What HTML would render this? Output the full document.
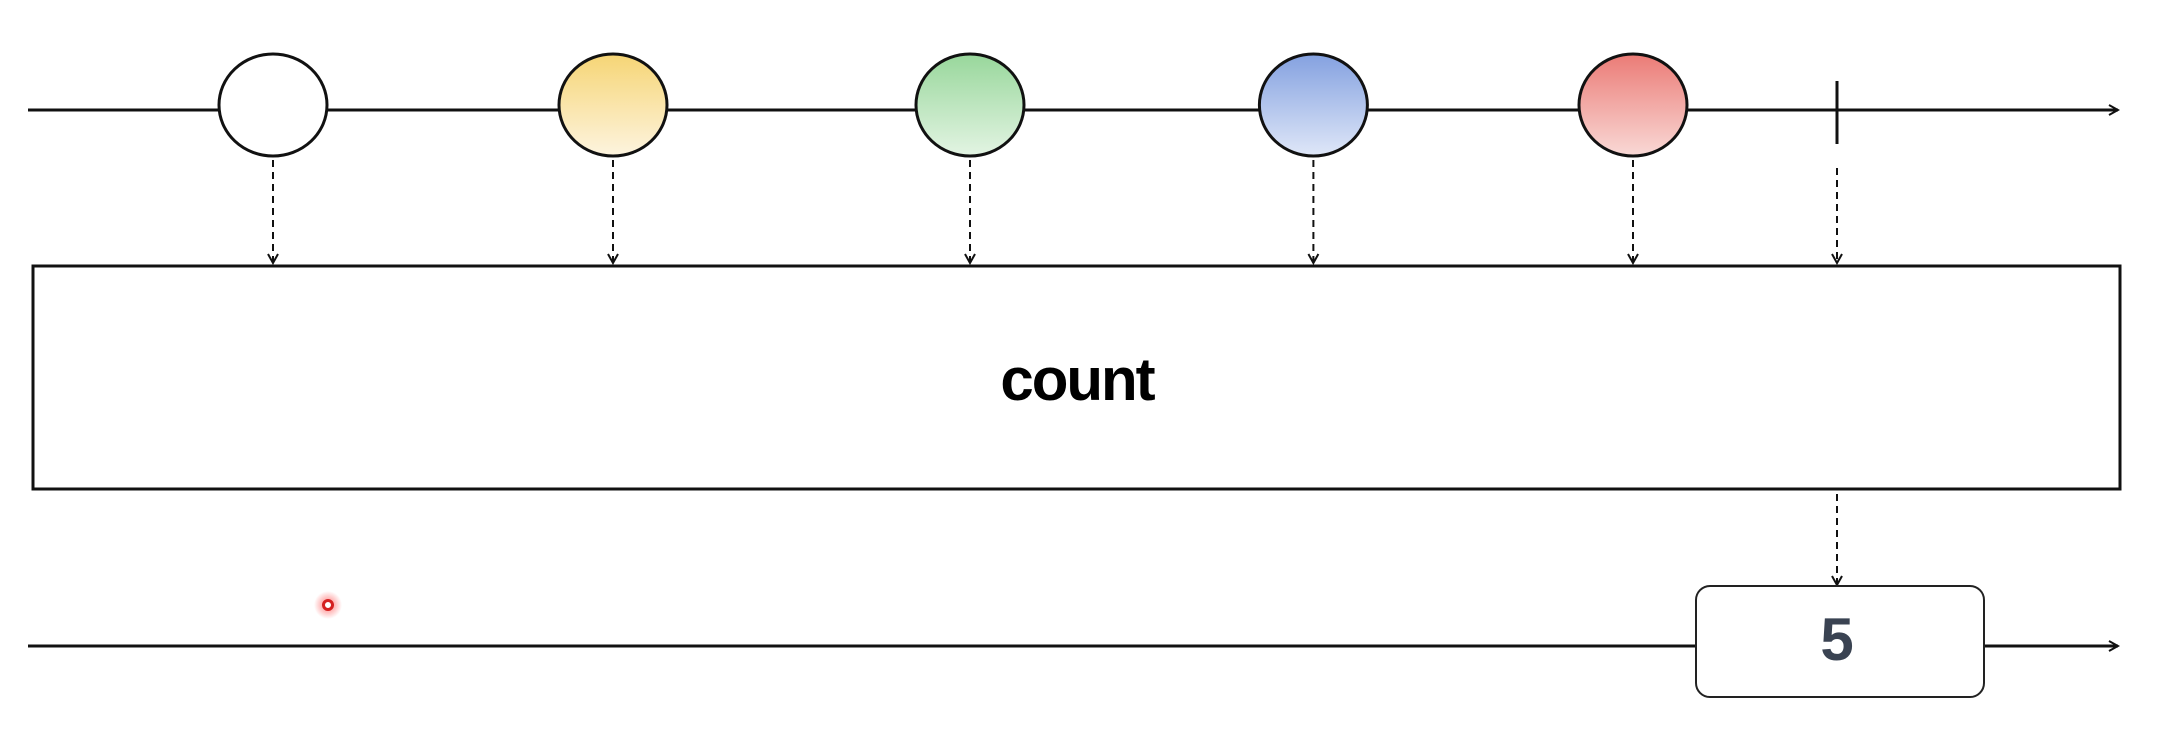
<!DOCTYPE html>
<html><head><meta charset="utf-8"><style>
html,body{margin:0;padding:0;background:#fff;}
svg{display:block;}
</style></head><body>
<svg id="chart" width="2172" height="738" viewBox="0 0 2172 738" xmlns="http://www.w3.org/2000/svg">
<defs>
<linearGradient id="gw" x1="0" y1="0" x2="0" y2="1"><stop offset="0" stop-color="#ffffff"/><stop offset="1" stop-color="#ffffff"/></linearGradient>
<linearGradient id="gy" x1="0" y1="0" x2="0" y2="1"><stop offset="0" stop-color="#f6d575"/><stop offset="1" stop-color="#fdf4df"/></linearGradient>
<linearGradient id="gg" x1="0" y1="0" x2="0" y2="1"><stop offset="0" stop-color="#98d79b"/><stop offset="1" stop-color="#e3f4e3"/></linearGradient>
<linearGradient id="gb" x1="0" y1="0" x2="0" y2="1"><stop offset="0" stop-color="#84a1e0"/><stop offset="1" stop-color="#dfe7f8"/></linearGradient>
<linearGradient id="gr" x1="0" y1="0" x2="0" y2="1"><stop offset="0" stop-color="#eb7b76"/><stop offset="1" stop-color="#f9d9d6"/></linearGradient>
<radialGradient id="glow"><stop offset="0.4" stop-color="#ff6060" stop-opacity="0.5"/><stop offset="1" stop-color="#ff6060" stop-opacity="0"/></radialGradient>
<marker id="ah" markerWidth="12" markerHeight="12" refX="10" refY="6" orient="auto" markerUnits="userSpaceOnUse"><path d="M1,1 L10,6 L1,11" fill="none" stroke="#111" stroke-width="2"/></marker>
</defs>
<g id="layer"></g>
</svg>
<script>
const eventTimes = [1.0, 2.0, 3.05, 4.06, 5.0];
const eventFills = ["gw", "gy", "gg", "gb", "gr"];
const completeTime = 5.6;
const resultValue = ["5"];

const NS = "http://www.w3.org/2000/svg";
const layer = document.getElementById("layer");
function xScale(t){ return 273 + (t - 1) * 340; }
function mk(tag, attrs){ const e = document.createElementNS(NS, tag); for (const k in attrs) e.setAttribute(k, attrs[k]); layer.appendChild(e); return e; }

let el;
el = mk("line",{x1:28,y1:110,x2:2118,y2:110,stroke:"#111","stroke-width":3,"marker-end":"url(#ah)"});



eventTimes.forEach((t,i)=>{
  const x = xScale(t);
  const a = mk("line",{x1:x,y1:160,x2:x,y2:263,stroke:"#111","stroke-width":2,"stroke-dasharray":"7,5","marker-end":"url(#ah)"});
  
  
  const c = mk("ellipse",{cx:x,cy:105,rx:54,ry:51,fill:"url(#"+eventFills[i]+")",stroke:"#111","stroke-width":3});
  
  
});

const cx = xScale(completeTime);
el = mk("line",{x1:cx,y1:81,x2:cx,y2:144,stroke:"#111","stroke-width":3});


el = mk("line",{x1:cx,y1:168,x2:cx,y2:263,stroke:"#111","stroke-width":2,"stroke-dasharray":"7,5","marker-end":"url(#ah)"});



el = mk("rect",{x:33,y:266,width:2087,height:223,fill:"#fff",stroke:"#111","stroke-width":3});


el = mk("text",{x:1077,y:400,"text-anchor":"middle","font-family":"Liberation Sans, sans-serif","font-weight":"bold","font-size":"60",fill:"#000","letter-spacing":"-2"});
el.textContent = "count";



el = mk("line",{x1:cx,y1:494,x2:cx,y2:585,stroke:"#111","stroke-width":2,"stroke-dasharray":"7,5","marker-end":"url(#ah)"});



el = mk("line",{x1:28,y1:646,x2:2118,y2:646,stroke:"#111","stroke-width":3,"marker-end":"url(#ah)"});



el = mk("rect",{x:cx-141,y:586,width:288,height:111,rx:14,fill:"#fff",stroke:"#222","stroke-width":2});


el = mk("text",{x:cx,y:660,"text-anchor":"middle","font-family":"Liberation Sans, sans-serif","font-weight":"bold","font-size":"60",fill:"#3a4352"});
el.textContent = resultValue[0];



el = mk("circle",{cx:328,cy:605,r:14,fill:"url(#glow)"});


el = mk("circle",{cx:328,cy:605,r:4.5,fill:"#fff",stroke:"#d42020","stroke-width":3});


</script>
</body></html>
